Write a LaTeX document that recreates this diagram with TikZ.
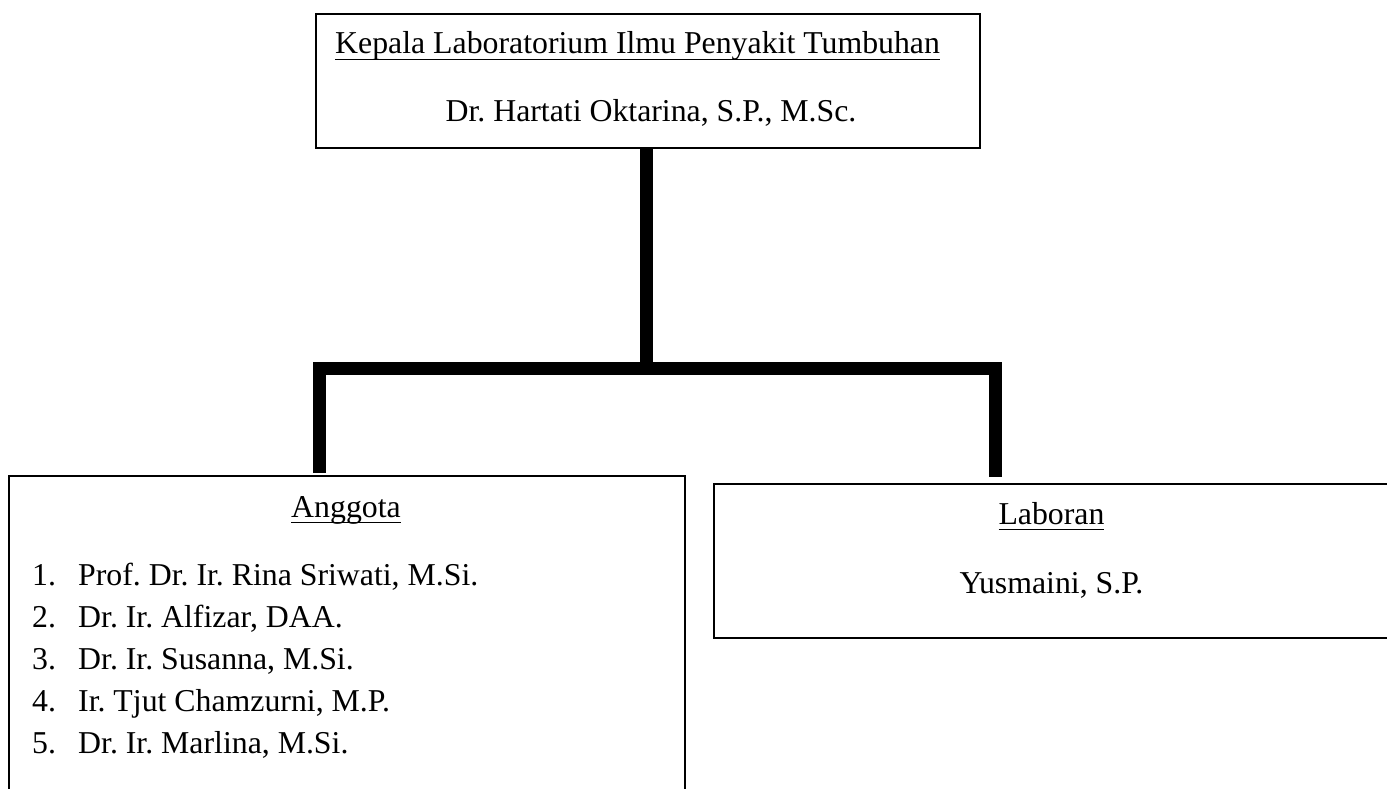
\documentclass[tikz,border=0pt]{standalone}
\usepackage{fontspec}
\setmainfont{Liberation Serif}
\usepackage{tikz}
\frenchspacing

\newcommand{\ultext}[1]{\setbox0=\hbox{#1}\rlap{\rule[-6.3pt]{\wd0}{1.6pt}}\box0}

\begin{document}
\begin{tikzpicture}[x=1pt, y=-1pt,
        every node/.append style={font=\fontsize{31.8}{38}\selectfont, inner sep=0pt},
        box/.style={draw, line width=2pt, anchor=north west},
        conn/.style={line width=13pt, line join=miter}]
    \useasboundingbox (0,0) rectangle (1387,789);
    \clip (0,0) rectangle (1387,789);

    \node[box, minimum width=664pt, minimum height=134pt] (head) at (315,13) {};
    \node[box, minimum width=676pt, minimum height=340pt] (anggota) at (8,475) {};
    \node[box, minimum width=677pt, minimum height=154pt] (laboran) at (713,483) {};

    \node[anchor=base west] (headtitle) at (335,54) {\ultext{Kepala Laboratorium Ilmu Penyakit Tumbuhan}};
    \node[anchor=base] (headname) at (651,122) {Dr. Hartati Oktarina, S.P., M.Sc.};

    \node[anchor=base] (anggotatitle) at (346,517) {\ultext{Anggota}};
    \foreach \name [count=\i] in {{Prof. Dr. Ir. Rina Sriwati, M.Si.}, {Dr. Ir. Alfizar, DAA.},
            {Dr. Ir. Susanna, M.Si.}, {Ir. Tjut Chamzurni, M.P.}, {Dr. Ir. Marlina, M.Si.}} {
        \node[anchor=base west] (num\i) at (32,{585+42.2*(\i-1)}) {\i.};
        \node[anchor=base west] (member\i) at (78,{585+42.2*(\i-1)}) {\name};
    }

    \node[anchor=base] (labtitle) at (1051.5,524) {\ultext{Laboran}};
    \node[anchor=base] (labname) at (1051.5,593) {Yusmaini, S.P.};

    \coordinate (split) at (646.5,368);
    \draw[conn] (head.south -| split) -- (split);
    \draw[conn, shorten <=2pt, shorten >=6pt] (anggota.north -| 319.5,0) |- (split) -| (laboran.north -| 995.5,0);
\end{tikzpicture}
\end{document}
